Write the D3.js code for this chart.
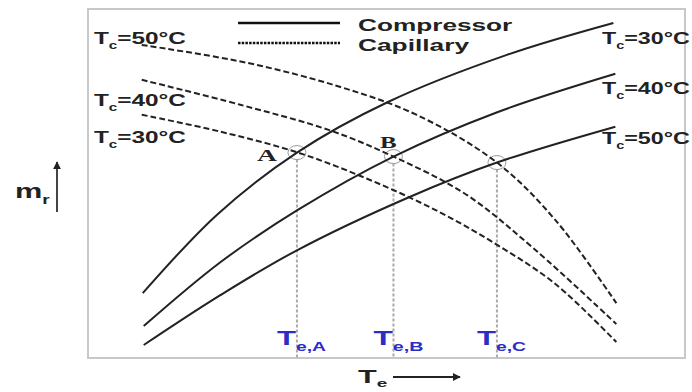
<!DOCTYPE html>
<meta charset="utf-8">
<title>Compressor and capillary matching</title>
<style>
body{margin:0;background:#fff;}
svg{display:block;font-family:"Liberation Sans",Arial,sans-serif;}
.curve{fill:none;stroke:#222;stroke-width:2;}
.cap{stroke-dasharray:6,3;}
.lab{font-weight:bold;fill:#222;}
.te{font-weight:bold;fill:#2c2cc8;}
.drop{stroke:#aaa;stroke-width:2;stroke-dasharray:3,2;}
.ring{fill:none;stroke:#999;stroke-width:1;}
</style>
<body>
<svg id="chart" width="692" height="392"></svg>
<script src="https://cdnjs.cloudflare.com/ajax/libs/d3/7.8.5/d3.min.js"></script>
<script>
// arbitrary units (Te across, mr up)
var tcLevels = ["30", "40", "50"];

var comp30 = [[5.5,6.5],[13.0,14.4],[21.0,20.6],[30.2,25.7],[42.1,30.4],[52.8,33.6]];
var comp40 = [[5.6,3.2],[13.3,9.6],[21.0,14.8],[30.7,20.2],[41.0,24.6],[53.0,28.5]];
var comp50 = [[5.6,1.3],[13.3,6.3],[21.0,10.8],[32.2,16.1],[41.1,19.6],[53.0,23.2]];

var cap30 = [[5.4,24.4],[13.3,22.7],[21.1,20.6],[28.0,18.0],[35.0,14.8],[41.2,11.3],[47.0,7.4],[53.1,1.6]];
var cap40 = [[5.4,27.9],[15.3,25.4],[24.4,22.8],[30.7,20.2],[38.0,16.4],[45.0,10.8],[53.1,3.4]];
var cap50 = [[5.4,31.4],[16.0,29.6],[25.3,27.2],[33.0,24.4],[41.1,19.6],[47.0,13.8],[53.1,5.5]];

var opNames = ["A", "B", "C"];
var opPoints = [[21.0,20.6],[30.7,20.2],[41.1,19.6]];

var svg = d3.select("#chart");

var x = d3.scaleLinear().domain([0, 60]).range([88, 685]);
var y = d3.scaleLinear().domain([0, 35]).range([358, 9]);

var line = d3.line()
    .x(function(d){ return x(d[0]); })
    .y(function(d){ return y(d[1]); })
    .curve(d3.curveCatmullRom.alpha(0.5));

// frame
svg.append("rect")
    .attr("x", x(0)).attr("y", y(35))
    .attr("width", x(60) - x(0)).attr("height", y(0) - y(35))
    .attr("fill", "none").attr("stroke", "#c8c8c8").attr("stroke-width", 2);

// drop lines + rings at the operating points
svg.selectAll(".drop").data(opPoints).enter().append("line")
    .attr("class", "drop")
    .attr("x1", function(d){ return x(d[0]); })
    .attr("x2", function(d){ return x(d[0]); })
    .attr("y1", function(d){ return y(d[1]) + 7; })
    .attr("y2", y(0));

svg.selectAll(".ring").data(opPoints).enter().append("ellipse")
    .attr("class", "ring")
    .attr("cx", function(d){ return x(d[0]); })
    .attr("cy", function(d){ return y(d[1]); })
    .attr("rx", 9).attr("ry", 7);

svg.selectAll(".comp").data([comp30, comp40, comp50]).enter().append("path")
    .attr("class", "curve comp")
    .attr("d", line);

svg.selectAll(".cap").data([cap30, cap40, cap50]).enter().append("path")
    .attr("class", "curve cap")
    .attr("d", line);

// text that looks stretched sideways in the source: fit each to a width
function label(px, py, w, size, parts, cls, shift) {
  var g = svg.append("g").attr("transform", "translate(" + px + "," + py + ")");
  var t = g.append("text").attr("class", cls).style("font-size", size + "px");
  var k = shift || 0.3;
  var down = 0;
  parts.forEach(function(p){
    var sub = p[1] === true;
    var dy = sub ? size * k : -down;
    down = sub ? size * k : 0;
    t.append("tspan")
      .attr("dy", dy)
      .style("font-size", sub ? (size * 0.62) + "px" : null)
      .text(p[0]);
  });
  var bw = t.node().getBBox().width;
  g.attr("transform", "translate(" + px + "," + py + ") scale(" + (w / bw) + ",1)");
  return t;
}

// Tc labels, left ends of capillary curves (top to bottom 50,40,30)
var leftY = [137, 100, 38];
var rightY = [38, 88, 138];
tcLevels.forEach(function(tc, i){
  label(94, leftY[i] + 6, 92, 16.5, [["T"], ["c", true], ["=" + tc + "°C"]], "lab");
  label(602, rightY[i] + 6, 88, 16.5, [["T"], ["c", true], ["=" + tc + "°C"]], "lab");
});

// legend
svg.append("line").attr("x1", 238).attr("x2", 340).attr("y1", 23).attr("y2", 23)
    .attr("stroke", "#111").attr("stroke-width", 2.5);
svg.append("line").attr("x1", 238).attr("x2", 340).attr("y1", 43).attr("y2", 43)
    .attr("stroke", "#111").attr("stroke-width", 2.5).attr("stroke-dasharray", "2.5,1.2");
label(358, 31, 155, 17, [["Compressor"]], "lab");
label(358, 51, 112, 17, [["Capillary"]], "lab");

// operating point letters
var letterPos = [[257, 161], [380, 148]];
letterPos.forEach(function(p, i){
  var t = label(p[0], p[1], i === 0 ? 20 : 18, 17, [[opNames[i]]], "lab");
  t.style("font-family", "'Liberation Serif','Times New Roman',serif");
});

// Te,A / Te,B / Te,C
opPoints.forEach(function(d, i){
  label(x(d[0]) - 20, 345, 50, 21, [["T"], ["e," + opNames[i], true]], "te");
});

// axis labels with arrows
svg.append("defs").append("marker")
    .attr("id", "head").attr("viewBox", "0 0 10 10")
    .attr("refX", 9).attr("refY", 5)
    .attr("markerWidth", 4).attr("markerHeight", 4)
    .attr("orient", "auto")
  .append("path").attr("d", "M0,0L10,5L0,10Z").attr("fill", "#222");

svg.append("line").attr("x1", 57).attr("x2", 57).attr("y1", 212).attr("y2", 162)
    .attr("stroke", "#444").attr("stroke-width", 2).attr("marker-end", "url(#head)");
label(15, 198, 35, 20, [["m"], ["r", true]], "lab");

svg.append("line").attr("x1", 393).attr("x2", 460).attr("y1", 377).attr("y2", 377)
    .attr("stroke", "#222").attr("stroke-width", 2).attr("marker-end", "url(#head)");
label(358, 383, 30, 19, [["T"], ["e", true]], "lab", 0.22);
</script>
</body>
